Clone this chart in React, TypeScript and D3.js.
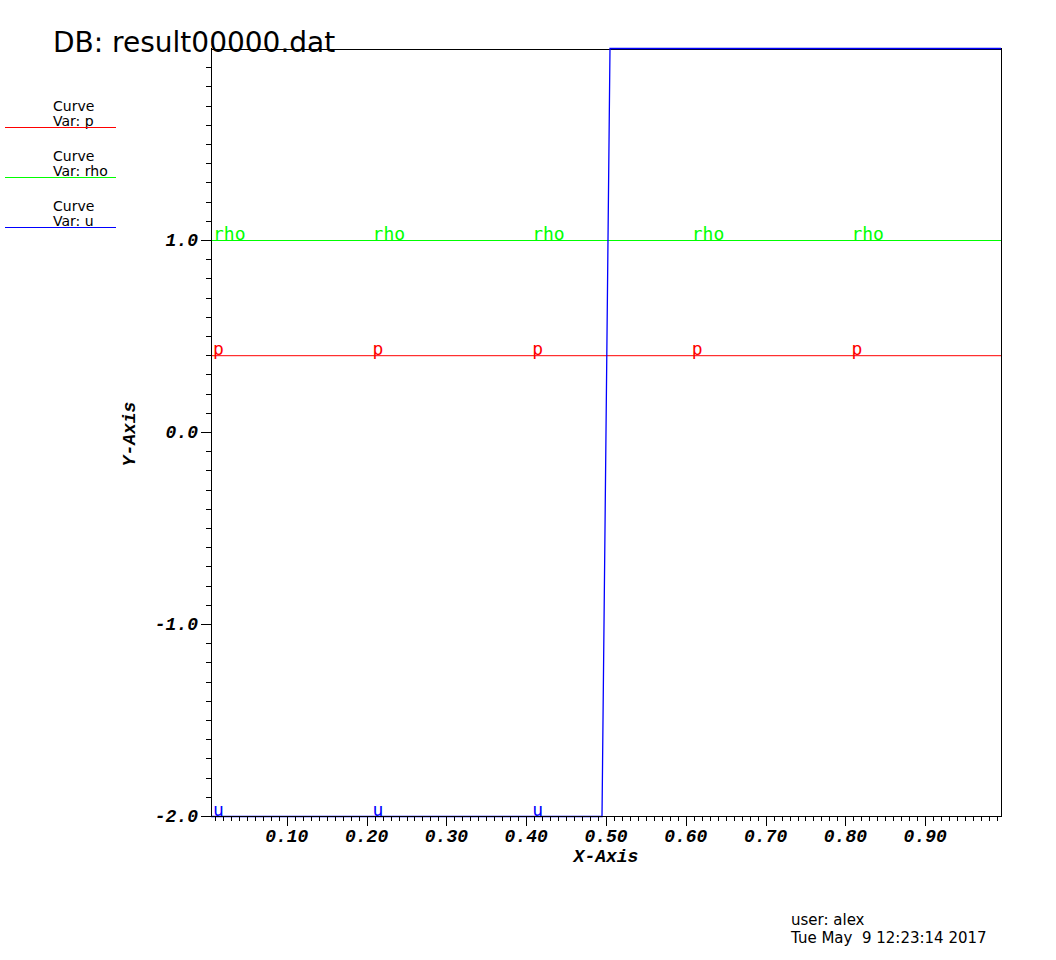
import React from "react";
import * as d3 from "d3";

// ---- data ----
const seriesNames = ["p", "rho", "u"];
const seriesColors = ["#ff0000", "#00ff00", "#0000ff"];
const pX = [0.005, 0.995];
const pY = [0.4, 0.4];
const rhoX = [0.005, 0.995];
const rhoY = [1.0, 1.0];
const uX = [0.005, 0.495, 0.505, 0.995];
const uY = [-2.0, -2.0, 2.0, 2.0];
const curveLabelX = [0.005, 0.205, 0.405, 0.605, 0.805];
const xTickValues = [0.1, 0.2, 0.3, 0.4, 0.5, 0.6, 0.7, 0.8, 0.9];
const xTickLabels = ["0.10", "0.20", "0.30", "0.40", "0.50", "0.60", "0.70", "0.80", "0.90"];
const yTickValues = [-2, -1, 0, 1];
const yTickLabels = ["-2.0", "-1.0", "0.0", "1.0"];
const titleText = "DB: result00000.dat";
const userText = "user: alex";
const dateText = "Tue May  9 12:23:14 2017";

const series = [
  { name: seriesNames[0], color: seriesColors[0], xs: pX, ys: pY, w: 1 },
  { name: seriesNames[1], color: seriesColors[1], xs: rhoX, ys: rhoY, w: 1 },
  { name: seriesNames[2], color: seriesColors[2], xs: uX, ys: uY, w: 1.3 },
];

const L = 211, R = 1001, T = 48, B = 816;

export default function App() {
  const x = d3.scaleLinear().domain([0.005, 0.995]).range([L, R]);
  const y = d3.scaleLinear().domain([-2, 2]).range([B, T]);
  const line = d3.line<[number, number]>().x((d) => x(d[0])).y((d) => y(d[1]));
  const xMinor = d3.range(1, 100).map((i) => i / 100);
  const yMinor = d3.range(-20, 20).map((i) => i / 10);
  const mono = "'Liberation Mono', 'DejaVu Sans Mono', monospace";
  const sans = "'DejaVu Sans', sans-serif";

  return (
    <svg width={1056} height={960} style={{ position: "absolute", left: 0, top: 0, background: "#fff" }}>
      <defs>
        <clipPath id="plotclip">
          <rect x={L} y={T} width={R - L} height={B - T} />
        </clipPath>
      </defs>
      {/* title */}
      <text x={53} y={52} fontFamily={sans} fontSize={28} fill="#000">{titleText}</text>

      {/* legend */}
      {series.map((s, i) => (
        <g key={s.name} transform={`translate(0, ${i * 50})`}>
          <text x={53} y={111} fontFamily={sans} fontSize={14} fill="#000">Curve</text>
          <text x={53} y={126} fontFamily={sans} fontSize={14} fill="#000">{`Var: ${s.name}`}</text>
          <line x1={5} x2={116} y1={127.5} y2={127.5} stroke={s.color} strokeWidth={1.2} />
        </g>
      ))}

      {/* frame */}
      <line x1={L} x2={R} y1={T + 1.5} y2={T + 1.5} stroke="#000" strokeWidth={1} />
      <line x1={R + 0.5} x2={R + 0.5} y1={T} y2={B} stroke="#000" strokeWidth={1} />

      {/* curves */}
      <g transform="translate(0, 0.5)">
        {series.map((s) => (
          <path
            key={s.name}
            d={line(s.xs.map((v, i) => [v, s.ys[i]]) as [number, number][]) || ""}
            fill="none"
            stroke={s.color}
            strokeWidth={s.w}
          />
        ))}
      </g>

      {/* curve labels */}
      <g clipPath="url(#plotclip)">
        {series.map((s) => {
          const interp = d3.scaleLinear().domain(s.xs).range(s.ys);
          return curveLabelX.map((lx) => (
            <text
              key={s.name + lx}
              x={x(lx) + 2}
              y={y(interp(lx))}
              fontFamily="'DejaVu Sans Mono', monospace"
              fontSize={18}
              fill={s.color}
            >
              {s.name}
            </text>
          ));
        })}
      </g>

      {/* axes */}
      <line x1={L + 0.5} x2={L + 0.5} y1={T} y2={B + 1} stroke="#000" strokeWidth={1} />
      <line x1={L} x2={R + 1} y1={B + 0.5} y2={B + 0.5} stroke="#000" strokeWidth={1.2} />
      {yMinor.map((v) => (
        <line key={"ym" + v} x1={L - 5} x2={L} y1={Math.round(y(v)) + 0.5} y2={Math.round(y(v)) + 0.5} stroke="#000" />
      ))}
      {yTickValues.map((v, i) => (
        <g key={"yt" + v}>
          <line x1={L - 10} x2={L} y1={Math.round(y(v)) + 0.5} y2={Math.round(y(v)) + 0.5} stroke="#000" />
          <text x={198} y={y(v) + 6} textAnchor="end" fontFamily={mono} fontWeight="bold" fontStyle="italic" fontSize={18} fill="#000">
            {yTickLabels[i]}
          </text>
        </g>
      ))}
      {xMinor.map((v) => (
        <line key={"xm" + v} x1={Math.round(x(v)) + 0.5} x2={Math.round(x(v)) + 0.5} y1={B} y2={B + 5} stroke="#000" />
      ))}
      {xTickValues.map((v, i) => (
        <g key={"xt" + v}>
          <line x1={Math.round(x(v)) + 0.5} x2={Math.round(x(v)) + 0.5} y1={B} y2={B + 10} stroke="#000" />
          <text x={x(v)} y={842} textAnchor="middle" fontFamily={mono} fontWeight="bold" fontStyle="italic" fontSize={18} fill="#000">
            {xTickLabels[i]}
          </text>
        </g>
      ))}
      <text x={606} y={862} textAnchor="middle" fontFamily={mono} fontWeight="bold" fontStyle="italic" fontSize={18} fill="#000">X-Axis</text>
      <text transform="translate(135, 434) rotate(-90)" textAnchor="middle" fontFamily={mono} fontWeight="bold" fontStyle="italic" fontSize={18} fill="#000">Y-Axis</text>

      {/* footer */}
      <text x={791} y={925} fontFamily={sans} fontSize={15} fill="#000">{userText}</text>
      <text x={791} y={943} fontFamily={sans} fontSize={15} fill="#000" style={{ whiteSpace: "pre" }}>{dateText}</text>
    </svg>
  );
}
